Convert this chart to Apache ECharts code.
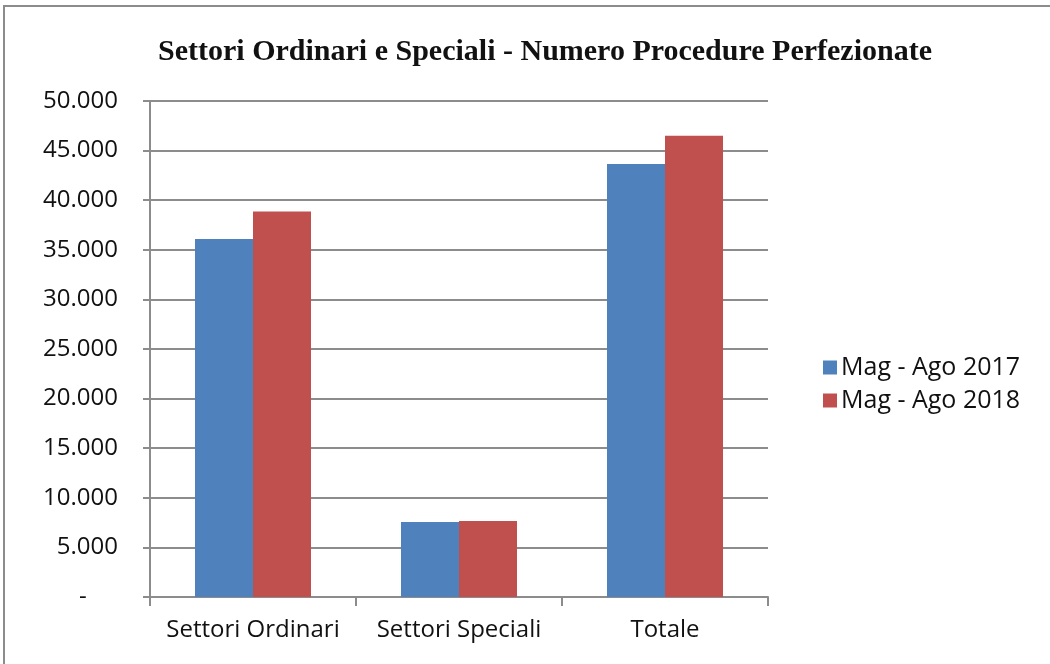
<!DOCTYPE html>
<html>
<head>
<meta charset="utf-8">
<script src="https://cdn.jsdelivr.net/npm/echarts@6/dist/echarts.min.js"></script>
<style>
html, body { margin: 0; padding: 0; background: #fff; }
#chart { width: 1050px; height: 664px; }
</style>
</head>
<body>
<div id="chart"></div>
<script>
const categories = ['Settori Ordinari', 'Settori Speciali', 'Totale'];
const seriesNames = ['Mag - Ago 2017', 'Mag - Ago 2018'];
const values2017 = [36100, 7550, 43650];
const values2018 = [38850, 7650, 46500];
const colorsArr = ['#4F81BD', '#C0504D'];

// formatta i numeri con il punto delle migliaia, zero come trattino
function fmt(v) {
	if (v === 0) return '-     ';
	return String(v).replace(/\B(?=(\d{3})+(?!\d))/g, '.');
}

var dom = document.getElementById('chart');
var myChart = echarts.init(dom);
var option;

option = {
	color: colorsArr,
	animation: false,
	title: {
		text: 'Settori Ordinari e Speciali - Numero Procedure Perfezionate',
		left: 540,
		top: 32,
		textAlign: 'center',
		textStyle: {
			fontFamily: 'Liberation Serif',
			fontWeight: 'bold',
			fontSize: 30,
			color: '#111'
		}
	},
	legend: {
		orient: 'vertical',
		left: 818,
		top: 350,
		itemWidth: 14,
		itemHeight: 14,
		itemGap: 8,
		icon: 'rect',
		textStyle: {
			fontFamily: 'Open Sans',
			fontSize: 25,
			color: '#111',
			padding: [0, 0, 0, -1]
		},
		data: seriesNames
	},
	grid: {
		left: 150,
		right: 282,
		top: 101,
		bottom: 67
	},
	graphic: [{
		type: 'rect',
		shape: { x: 4, y: 6, width: 1060, height: 680 },
		style: { fill: 'none', stroke: '#8c8c8c', lineWidth: 2 }
	}],
	xAxis: {
		type: 'category',
		data: categories,
		axisLine: { lineStyle: { color: '#8c8c8c', width: 2 } },
		axisTick: { show: true, length: 9, lineStyle: { color: '#8c8c8c', width: 2 } },
		axisLabel: {
			interval: 0,
			hideOverlap: false,
			margin: 21,
			fontFamily: 'Open Sans',
			fontSize: 24,
			color: '#111'
		}
	},
	yAxis: {
		type: 'value',
		min: 0,
		max: 50000,
		interval: 5000,
		axisLine: { show: true, lineStyle: { color: '#8c8c8c', width: 2 } },
		axisTick: { show: true, length: 7, lineStyle: { color: '#8c8c8c', width: 2 } },
		splitLine: { show: true, lineStyle: { color: '#8c8c8c', width: 2 } },
		axisLabel: {
			margin: 32,
			fontFamily: 'Open Sans',
			fontSize: 24,
			color: '#111',
			formatter: fmt
		}
	},
	series: [{
			name: seriesNames[0],
			type: 'bar',
			barWidth: 58,
			barGap: '0%',
			data: values2017
		},
		{
			name: seriesNames[1],
			type: 'bar',
			barWidth: 58,
			barGap: '0%',
			data: values2018
		}
	]
};
if (option && typeof option === 'object') {
	myChart.setOption(option);
}
</script>
</body>
</html>
